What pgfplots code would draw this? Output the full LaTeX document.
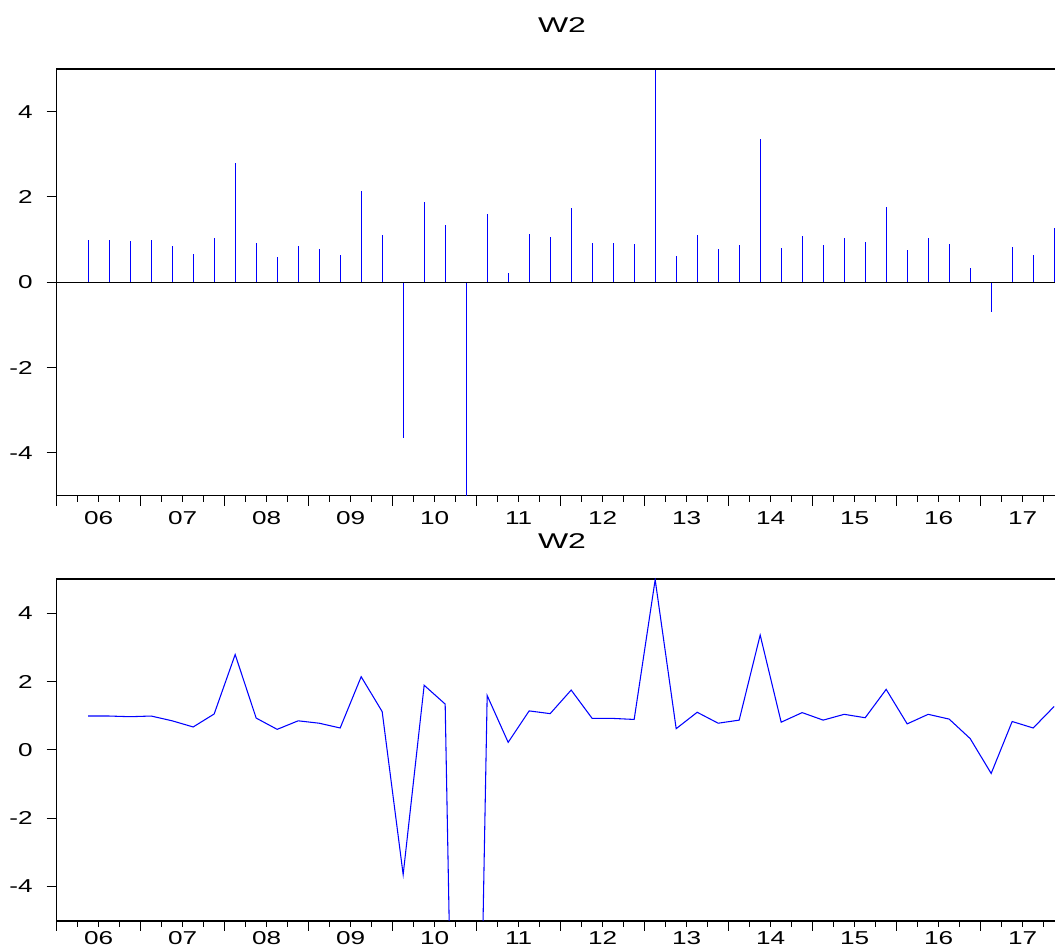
\documentclass[border=0pt]{standalone}
\usepackage{fontspec}
\setmainfont{Liberation Sans}
\usepackage{graphicx}
\usepackage{pgfplots}
\pgfplotsset{compat=1.18}
\usepackage{pgfplotstable}

% stretched labels, as in the EViews output
\newcommand\sx[1]{\scalebox{1.4}[1]{#1}}

% W2, quarterly 2006Q2--2017Q4; x = quarters since 2006Q1 (mid-quarter)
\pgfplotstableread{
x v
1.5 0.99
2.5 0.99
3.5 0.97
4.5 0.99
5.5 0.85
6.5 0.67
7.5 1.05
8.5 2.79
9.5 0.93
10.5 0.60
11.5 0.85
12.5 0.78
13.5 0.64
14.5 2.14
15.5 1.12
16.5 -3.65
17.5 1.89
18.5 1.34
19.5 -32
20.5 1.59
21.5 0.22
22.5 1.14
23.5 1.06
24.5 1.75
25.5 0.92
26.5 0.92
27.5 0.89
28.5 4.98
29.5 0.62
30.5 1.10
31.5 0.78
32.5 0.87
33.5 3.36
34.5 0.81
35.5 1.09
36.5 0.87
37.5 1.04
38.5 0.94
39.5 1.77
40.5 0.76
41.5 1.04
42.5 0.90
43.5 0.33
44.5 -0.69
45.5 0.83
46.5 0.64
47.5 1.27
}\wtwo

\pgfplotsset{
  eviews/.style={
    scale only axis, width=756pt,
    xmin=0, xmax=48, ymin=-5, ymax=5,
    axis line style={line width=1.2pt, black},
    tick align=outside, tick pos=left,
    tick style={line width=0.75pt, black},
    major tick length=7.5pt, minor tick length=4.5pt,
    xtick={0,4,...,48}, minor x tick num=3,
    xticklabels={\sx{06},\sx{07},\sx{08},\sx{09},\sx{10},\sx{11},\sx{12},\sx{13},\sx{14},\sx{15},\sx{16},\sx{17},{}},
    ytick={-4,-2,0,2,4},
    yticklabels={\sx{-4},\sx{-2},\sx{0},\sx{2},\sx{4}},
    tick label style={font=\fontsize{14}{14}\selectfont, inner sep=0pt},
    yticklabel style={xshift=-10.3pt},
  }
}

\begin{document}
\begin{tikzpicture}
\path[use as bounding box] (0,0) rectangle (791.25pt,710.25pt);

\node at (421.5pt,691.1pt) {\fontsize{16}{16}\selectfont\scalebox{1.5}[1]{W2}};
\node at (421.5pt,304.5pt) {\fontsize{16}{16}\selectfont\scalebox{1.5}[1]{W2}};

% spike graph
\begin{axis}[eviews, at={(42.5pt,338.5pt)}, anchor=south west, height=320pt,
  xticklabel style={xshift=31.5pt, yshift=-4.5pt}]
  \addplot[ycomb, blue, line width=1pt, mark=none] table[x=x, y=v] {\wtwo};
  \draw[black, line width=0.75pt] (axis cs:0,0) -- (axis cs:48,0);
\end{axis}

% line graph
\begin{axis}[eviews, at={(42.5pt,19.7pt)}, anchor=south west, height=256.3pt,
  xticklabel style={xshift=31.5pt, yshift=-0.3pt}]
  \addplot[blue, line width=0.8pt, mark=none] table[x=x, y=v] {\wtwo};
\end{axis}
\end{tikzpicture}
\end{document}
